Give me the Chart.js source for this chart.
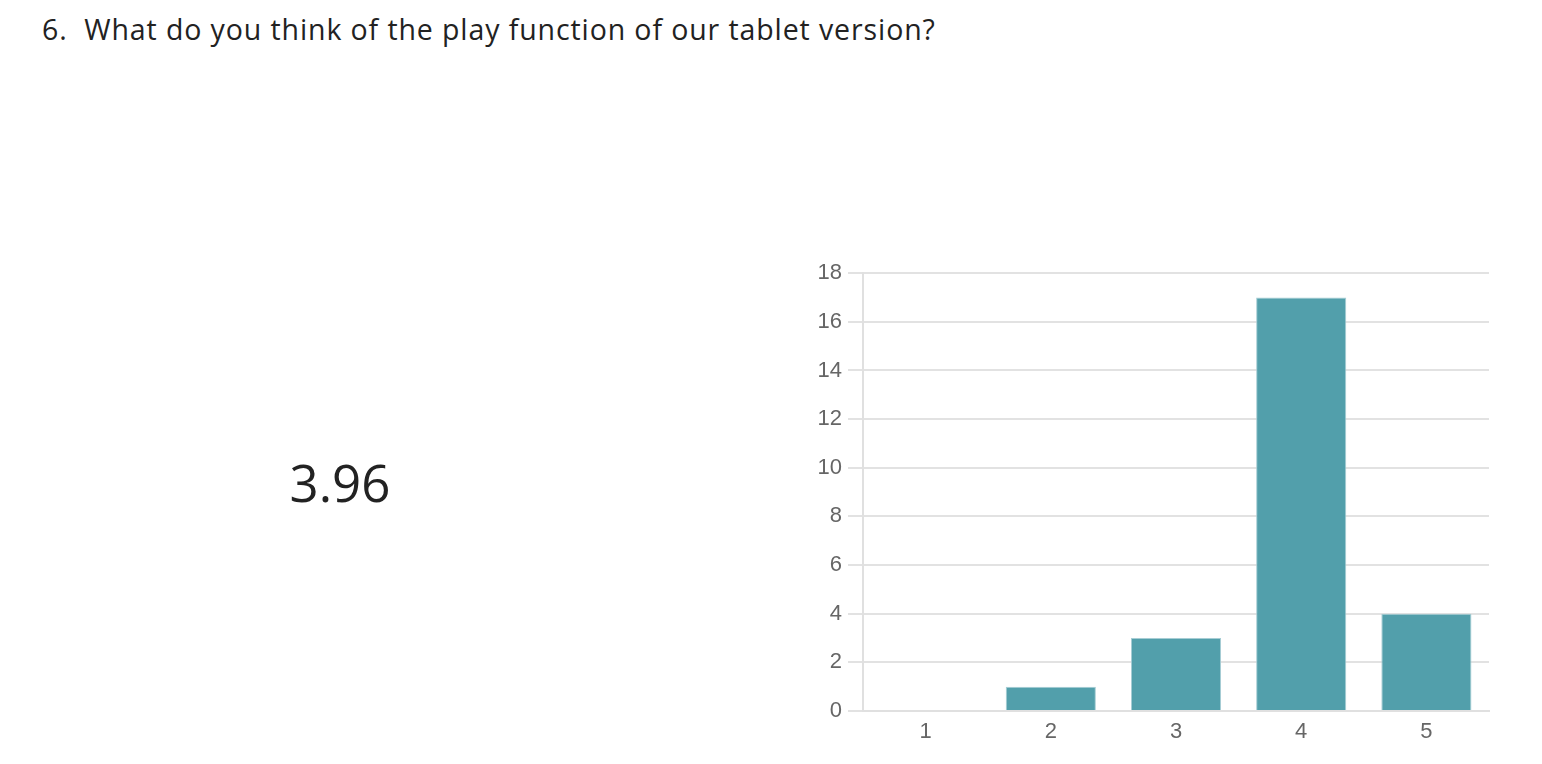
<!DOCTYPE html>
<html>
<head>
<meta charset="utf-8">
<script src="https://cdn.jsdelivr.net/npm/chart.js@4/dist/chart.umd.min.js"></script>
<style>
  html, body { margin: 0; padding: 0; background: #fff; width: 1542px; height: 764px; overflow: hidden; }
  #title { position: absolute; left: 42px; top: 10px; font-family: "Open Sans", "Noto Sans", sans-serif; font-size: 28.5px; letter-spacing: 0.9px; color: #222; white-space: nowrap; }
  #avg { position: absolute; left: 240px; width: 200px; text-align: center; top: 447px; font-family: "Open Sans", "Noto Sans", sans-serif; font-size: 51px; color: #222; }
  #wrap { position: absolute; left: 800px; top: 254px; width: 700px; height: 496px; }
</style>
</head>
<body>
<div id="title">6.&nbsp; What do you think of the play function of our tablet version?</div>
<div id="avg">3.96</div>
<div id="wrap"><canvas id="c"></canvas></div>
<script>
const categories = ["1", "2", "3", "4", "5"];
const counts = [0, 1, 3, 17, 4];
const yTicks = [0, 2, 4, 6, 8, 10, 12, 14, 16, 18];

new Chart(document.getElementById('c'), {
  type: 'bar',
  data: {
    labels: categories,
    datasets: [{
      data: counts,
      backgroundColor: '#529fab',
      borderColor: '#a6cdd4',
      borderWidth: 1,
      barPercentage: 0.72,
      categoryPercentage: 1.0
    }]
  },
  options: {
    responsive: true,
    maintainAspectRatio: false,
    animation: false,
    layout: { padding: { top: 16, right: 11, bottom: 0, left: 0 } },
    plugins: { legend: { display: false }, tooltip: { enabled: false } },
    scales: {
      x: {
        grid: { display: false, drawTicks: false },
        border: { color: '#e0e0e0', width: 2 },
        ticks: { color: '#666', font: { family: 'Liberation Sans, Arial, sans-serif', size: 22 }, padding: 8 },
        afterFit: s => { s.height = 39; }
      },
      y: {
        min: 0, max: 18,
        afterBuildTicks: s => { s.ticks = yTicks.map(v => ({ value: v })); },
        grid: { color: '#e2e2e2', lineWidth: 2, tickLength: 15 },
        border: { color: '#e0e0e0', width: 2 },
        ticks: { color: '#666', font: { family: 'Liberation Sans, Arial, sans-serif', size: 22 }, padding: 6 },
        afterFit: s => { s.width = 63; }
      }
    }
  }
});
</script>
</body>
</html>
